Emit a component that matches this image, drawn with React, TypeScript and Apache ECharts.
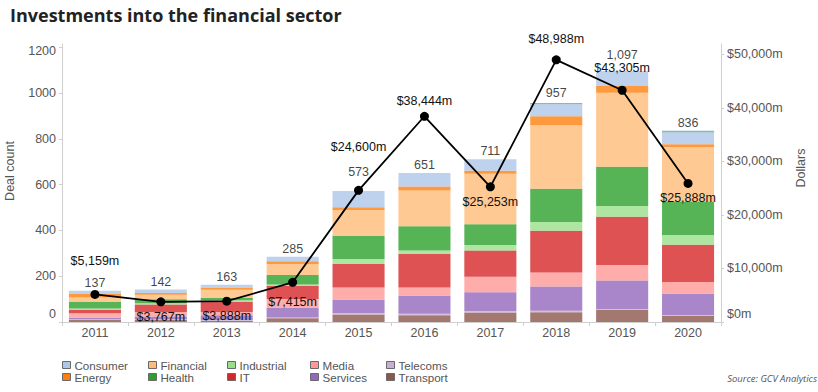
import React, { useEffect, useRef } from 'react';
import * as echarts from 'echarts';

// ---- data ----
const years = ['2011', '2012', '2013', '2014', '2015', '2016', '2017', '2018', '2019', '2020'];
const dealCount = [137, 142, 163, 285, 573, 651, 711, 957, 1097, 836];
const investment = [5159, 3767, 3888, 7415, 24600, 38444, 25253, 48988, 43305, 25888];

const transport = [9, 9, 6, 16, 33, 30, 41, 43, 53, 27];
const telecoms = [3, 3, 3, 4, 6, 6, 7, 6, 4, 4];
const services = [7, 12, 20, 42, 58, 79, 82, 106, 124, 93];
const media = [19, 20, 15, 38, 54, 36, 68, 61, 68, 51];
const itSector = [15, 32, 44, 57, 102, 146, 115, 183, 211, 163];
const industrial = [6, 6, 7, 7, 22, 16, 24, 38, 47, 42];
const health = [29, 17, 10, 41, 102, 105, 90, 145, 172, 147];
const financial = [19, 20, 36, 48, 112, 157, 221, 278, 323, 238];
const energy = [18, 8, 10, 12, 13, 17, 13, 39, 29, 12];
const consumer = [12, 15, 12, 20, 71, 59, 50, 53, 66, 51];
const other = [0, 0, 0, 0, 0, 0, 0, 5, 0, 8];

const leftTicks = [0, 200, 400, 600, 800, 1000, 1200];
const rightTicks = [0, 10000, 20000, 30000, 40000, 50000];

// ---- layout of labels (placement only) ----
const dollarSide = ['top', 'bottom', 'bottom', 'bottom', 'top', 'top', 'bottom', 'top', 'top', 'bottom'];
const dollarGap = [22, 4, 4, 9, 32, 4, 4, 10, 11, 4];
const countGap = [1, 1, 1, 1, 12, 1, 1, 3, 9, 1];

const FONT = 'Arial, "Liberation Sans", sans-serif';

const commas = (v: number) => String(Math.round(v)).replace(/\B(?=(\d{3})+(?!\d))/g, ',');

export default function App() {
  const ref = useRef<HTMLDivElement>(null);

  useEffect(() => {
    const chart = echarts.init(ref.current!, null, { renderer: 'svg' });

    const sectors = [
      { name: 'Transport', data: transport, color: '#8c564b' },
      { name: 'Telecoms', data: telecoms, color: '#c5b0d5' },
      { name: 'Services', data: services, color: '#9467bd' },
      { name: 'Media', data: media, color: '#ff9896' },
      { name: 'IT', data: itSector, color: '#d62728' },
      { name: 'Industrial', data: industrial, color: '#98df8a' },
      { name: 'Health', data: health, color: '#2ca02c' },
      { name: 'Financial', data: financial, color: '#ffbb78' },
      { name: 'Energy', data: energy, color: '#ff7f0e' },
      { name: 'Consumer', data: consumer, color: '#aec7e8' },
      { name: 'Other', data: other, color: '#6fa3b0' },
    ];

    const barSeries = sectors.map((s) => ({
      name: s.name,
      type: 'bar',
      stack: 'deals',
      yAxisIndex: 0,
      data: s.data,
      barCategoryGap: '21%',
      itemStyle: { color: s.color, opacity: 0.8 },
      emphasis: { disabled: true },
    }));

    const legendCols = [
      ['Consumer', 'Energy'],
      ['Financial', 'Health'],
      ['Industrial', 'IT'],
      ['Media', 'Services'],
      ['Telecoms', 'Transport'],
    ];
    const legendLeft = [62, 148, 227, 310, 386];

    const legends = legendCols.map((col, i) => ({
      data: col,
      orient: 'vertical',
      left: legendLeft[i],
      top: 359,
      padding: 0,
      itemGap: 0,
      itemWidth: 8,
      itemHeight: 7,
      selectedMode: false,
      icon: 'rect',
      itemStyle: { opacity: 1, borderColor: '#6a6a6a', borderWidth: 1 },
      textStyle: { fontFamily: FONT, fontSize: 11.6, color: '#555', lineHeight: 12, padding: [0, 0, 0, -1] },
    }));

    const axisLabelBase = { fontFamily: FONT, fontSize: 12.5, color: '#555' };

    chart.setOption({
      animation: false,
      title: {
        text: 'Investments into the financial sector',
        left: 5,
        top: 1,
        textStyle: { fontFamily: '"Open Sans", sans-serif', fontWeight: 'bold', fontSize: 18, color: '#222' },
      },
      legend: legends,
      grid: { left: 62, right: 97, top: 44, bottom: 70, containLabel: false },
      xAxis: {
        type: 'category',
        data: years,
        axisLine: { lineStyle: { color: '#cfcfcf' } },
        axisTick: { show: true, length: 4, lineStyle: { color: '#cfcfcf' } },
        axisLabel: { ...axisLabelBase, margin: 4 },
      },
      yAxis: [
        {
          type: 'value',
          position: 'left',
          min: 0,
          max: 1215,
          interval: 200,
          splitLine: { show: false },
          axisLine: { show: true, lineStyle: { color: '#cfcfcf' } },
          axisTick: { show: true, length: 3, lineStyle: { color: '#cfcfcf' } },
          axisLabel: {
            ...axisLabelBase,
            margin: 6,
            showMaxLabel: false,
            formatter: (v: number) => {
              if (!leftTicks.includes(v)) return '';
              if (v === 0) return '{lo|0}';
              if (v === 1200) return '{hi|1200}';
              return String(v);
            },
            rich: {
              lo: { ...axisLabelBase, padding: [0, 0, 16, 0] },
              hi: { ...axisLabelBase, padding: [7, 0, 0, 0] },
            },
          },
        },
        {
          type: 'value',
          position: 'right',
          min: 0,
          max: 51950,
          interval: 10000,
          splitLine: { show: false },
          axisLine: { show: true, lineStyle: { color: '#cfcfcf' } },
          axisTick: { show: true, length: 3, lineStyle: { color: '#cfcfcf' } },
          axisLabel: {
            ...axisLabelBase,
            margin: 6,
            showMaxLabel: false,
            formatter: (v: number) => {
              if (!rightTicks.includes(v)) return '';
              if (v === 0) return '{lo|$0m}';
              return '$' + commas(v) + 'm';
            },
            rich: {
              lo: { ...axisLabelBase, padding: [0, 0, 16, 0] },
            },
          },
        },
      ],
      series: [
        ...barSeries,
        {
          name: 'Deal count',
          type: 'scatter',
          yAxisIndex: 0,
          symbolSize: 1,
          itemStyle: { color: 'transparent' },
          z: 6,
          silent: true,
          data: dealCount.map((v, i) => ({ value: v, label: { distance: countGap[i] } })),
          label: {
            show: true,
            position: 'top',
            fontFamily: FONT,
            fontSize: 12.5,
            color: '#111',
            formatter: (p: any) => commas(p.value),
          },
        },
        {
          name: 'Dollars',
          type: 'line',
          yAxisIndex: 1,
          symbol: 'circle',
          symbolSize: 9,
          z: 5,
          silent: true,
          lineStyle: { color: '#000', width: 1.8 },
          itemStyle: { color: '#000' },
          data: investment.map((v, i) => ({
            value: v,
            label: { position: dollarSide[i], distance: dollarGap[i] },
          })),
          label: {
            show: true,
            fontFamily: FONT,
            fontSize: 12.5,
            color: '#111',
            formatter: (p: any) => '$' + commas(p.value) + 'm',
          },
        },
      ],
      graphic: [
        {
          type: 'text',
          x: 10,
          y: 171,
          rotation: Math.PI / 2,
          style: {
            text: 'Deal count',
            fill: '#555',
            font: '12.5px Arial, "Liberation Sans", sans-serif',
            align: 'center',
            verticalAlign: 'middle',
            textAlign: 'center',
            textVerticalAlign: 'middle',
          },
        },
        {
          type: 'text',
          x: 801,
          y: 168,
          rotation: Math.PI / 2,
          style: {
            text: 'Dollars',
            fill: '#555',
            font: '12.5px Arial, "Liberation Sans", sans-serif',
            align: 'center',
            verticalAlign: 'middle',
            textAlign: 'center',
            textVerticalAlign: 'middle',
          },
        },
        {
          type: 'text',
          x: 817,
          y: 378,
          style: {
            text: 'Source: GCV Analytics',
            fill: '#555',
            font: 'italic 9.5px "Open Sans", sans-serif',
            align: 'right',
            verticalAlign: 'middle',
            textAlign: 'right',
            textVerticalAlign: 'middle',
          },
        },
      ],
    });

    return () => chart.dispose();
  }, []);

  return (
    <div
      ref={ref}
      style={{ position: 'fixed', left: 0, top: 0, width: 818, height: 392, background: '#fff' }}
    />
  );
}
